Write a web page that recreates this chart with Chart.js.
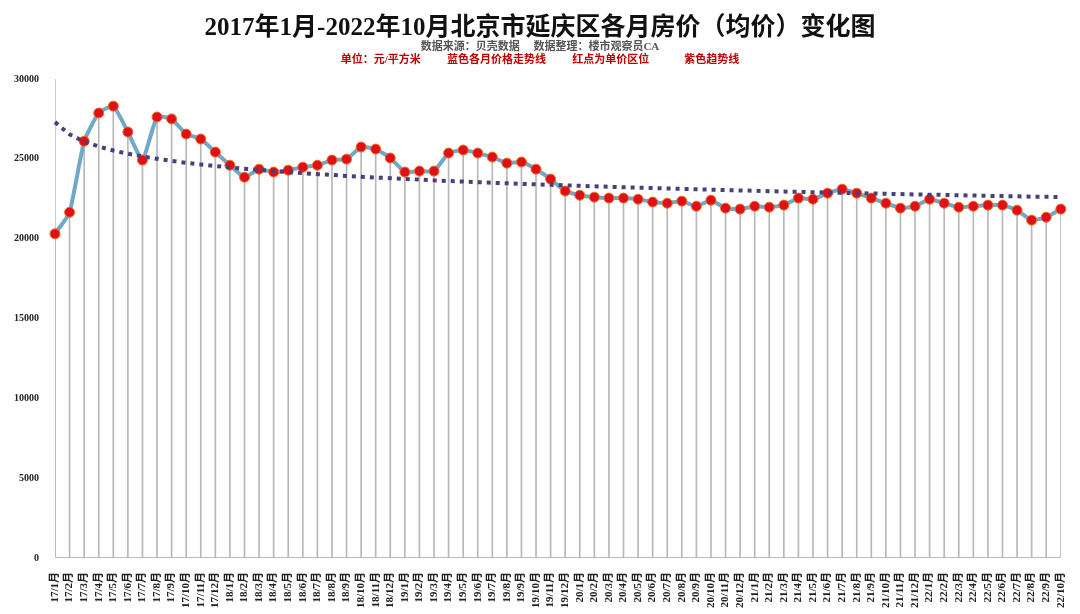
<!DOCTYPE html>
<html><head><meta charset="utf-8">
<script src="https://cdn.jsdelivr.net/npm/chart.js@4/dist/chart.umd.min.js"></script>
<style>
body{margin:0;background:#fff;width:1080px;height:614px;overflow:hidden;position:relative;font-family:"Liberation Serif","Noto Sans CJK SC",serif}
#t1{position:absolute;top:6px;left:0;width:1080px;text-align:center;font-size:25px;font-weight:bold;color:#111}
#t2{position:absolute;top:37px;left:0;width:1080px;text-align:center;font-size:11px;color:#555;font-weight:bold}
#t3{position:absolute;top:50px;left:0;width:1080px;text-align:center;font-size:11px;color:#c00000;font-weight:bold;word-spacing:6px}
#c{position:absolute;left:0;top:0}
</style></head><body>
<canvas id="c" width="1080" height="614"></canvas>
<div id="t1">2017年1月-2022年10月北京市延庆区各月房价（均价）变化图</div>
<div id="t2">数据来源：贝壳数据 &nbsp;&nbsp;&nbsp; 数据整理：楼市观察员CA</div>
<div id="t3">单位：元/平方米 &nbsp; 蓝色各月价格走势线 &nbsp; 红点为单价区位 &nbsp;&nbsp; 紫色趋势线</div>
<script>
const categories=[];
const years=[17,18,19,20,21,22];
for(const y of years){for(let m=1;m<=12;m++){if(y===22&&m>10)break;categories.push(y+'/'+m+'月');}}
const prices=[20300,21650,26100,27870,28300,26680,24920,27620,27500,26550,26240,25420,
24600,23850,24350,24170,24290,24480,24600,24920,24980,25740,25610,25050,
24170,24230,24230,25360,25550,25360,25110,24730,24800,24350,23730,22980,
22720,22600,22540,22540,22470,22290,22220,22350,22030,22410,21910,21850,
22030,21970,22100,22540,22470,22850,23100,22850,22540,22220,21910,22030,
22470,22220,21970,22030,22100,22100,21780,21160,21340,21850];
const trend=[27300,26530,26080,25770,25520,25320,25150,25000,24870,24750,24650,24550,
24460,24380,24310,24230,24170,24100,24040,23990,23930,23880,23830,23790,
23740,23700,23650,23610,23580,23540,23500,23470,23430,23400,23370,23340,
23310,23280,23250,23220,23190,23170,23140,23120,23090,23070,23040,23020,
23000,22970,22950,22930,22910,22890,22870,22850,22830,22810,22790,22770,
22750,22740,22720,22700,22680,22670,22650,22630,22620,22600];
const yTicks=[0,5000,10000,15000,20000,25000,30000];
const serif='"Liberation Serif","Noto Sans CJK SC",serif';
new Chart(document.getElementById('c'),{
 data:{labels:categories,datasets:[
  {type:'line',data:trend,borderColor:'#4b3f7a',borderWidth:4,borderDash:[4,5],pointRadius:0,fill:false,order:1},
  {type:'line',data:prices,borderColor:'#6fa8c8',borderWidth:4,pointRadius:5,pointBackgroundColor:'#e0101a',pointBorderColor:'#e87020',pointBorderWidth:1,tension:0.15,order:2},
  {type:'bar',data:prices,backgroundColor:'#b8b8b8',barThickness:1,order:3}
 ]},
 options:{responsive:false,animation:false,
  layout:{padding:{top:79,right:14,left:6,bottom:0}},
  plugins:{legend:{display:false},tooltip:{enabled:false}},
  scales:{
   x:{offset:false,grid:{display:false},border:{color:'#bbb'},
      ticks:{autoSkip:false,maxRotation:90,minRotation:90,padding:6,color:'#222',font:{family:serif,size:11,weight:'bold'}}},
   y:{min:0,max:30000,afterBuildTicks:a=>{a.ticks=yTicks.map(v=>({value:v}));},
      grid:{display:false},border:{color:'#ccc'},
      ticks:{color:'#222',padding:8,callback:v=>String(v),font:{family:serif,size:10,weight:'bold'}}}
  }}
});
</script></body></html>
